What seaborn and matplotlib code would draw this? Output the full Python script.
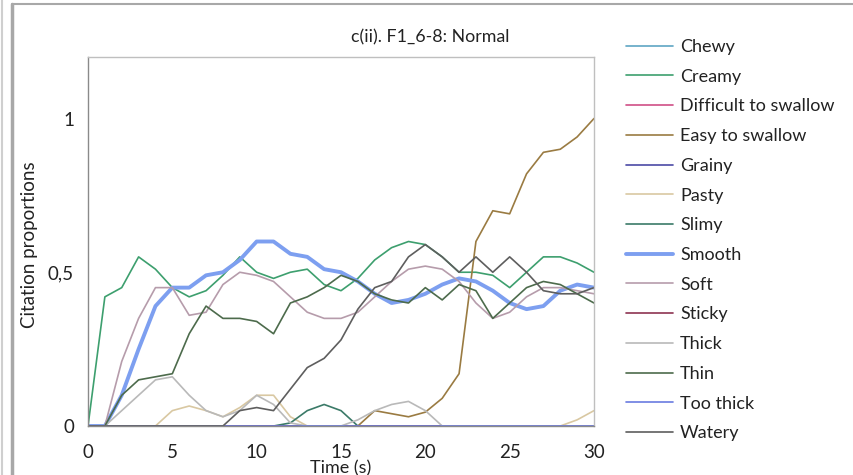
import numpy as np
import pandas as pd
import matplotlib
matplotlib.use("Agg")
import matplotlib.pyplot as plt
import seaborn as sns
from matplotlib.lines import Line2D

sns.set_style("white")
plt.rcParams['font.family'] = ['Lato', 'DejaVu Sans']

time_s = list(range(0, 31))

chewy = [0] * 31
creamy = [0, 0.42, 0.45, 0.55, 0.51, 0.45, 0.42, 0.44, 0.49, 0.55, 0.50, 0.48, 0.50, 0.51, 0.46, 0.44,
          0.48, 0.54, 0.58, 0.60, 0.59, 0.55, 0.50, 0.50, 0.49, 0.45, 0.50, 0.55, 0.55, 0.53, 0.50]
difficult = [0] * 31
easy = [0, 0, 0, 0, 0, 0, 0, 0, 0, 0, 0, 0, 0, 0, 0, 0,
        0, 0.05, 0.04, 0.03, 0.045, 0.09, 0.17, 0.60, 0.70, 0.69, 0.82, 0.89, 0.90, 0.94, 1.0]
grainy = [0] * 31
pasty = [0, 0, 0, 0, 0, 0.05, 0.065, 0.05, 0.03, 0.06, 0.10, 0.10, 0.03, 0, 0, 0,
         0, 0, 0, 0, 0, 0, 0, 0, 0, 0, 0, 0, 0, 0.02, 0.05]
slimy = [0, 0, 0, 0, 0, 0, 0, 0, 0, 0, 0, 0, 0.01, 0.05, 0.07, 0.05,
         0, 0, 0, 0, 0, 0, 0, 0, 0, 0, 0, 0, 0, 0, 0]
smooth = [0, 0, 0.10, 0.25, 0.39, 0.45, 0.45, 0.49, 0.50, 0.54, 0.60, 0.60, 0.56, 0.55, 0.51, 0.50,
          0.47, 0.43, 0.40, 0.41, 0.43, 0.46, 0.48, 0.47, 0.44, 0.40, 0.38, 0.39, 0.44, 0.46, 0.45]
soft = [0, 0, 0.21, 0.35, 0.45, 0.45, 0.36, 0.37, 0.46, 0.50, 0.49, 0.47, 0.42, 0.37, 0.35, 0.35,
        0.37, 0.42, 0.47, 0.51, 0.52, 0.51, 0.47, 0.40, 0.35, 0.37, 0.42, 0.45, 0.45, 0.44, 0.43]
sticky = [0] * 31
thick = [0, 0, 0.05, 0.10, 0.15, 0.16, 0.10, 0.05, 0.03, 0.05, 0.10, 0.07, 0.01, 0, 0, 0,
         0.02, 0.05, 0.07, 0.08, 0.05, 0, 0, 0, 0, 0, 0, 0, 0, 0, 0]
thin = [0, 0, 0.10, 0.15, 0.16, 0.17, 0.30, 0.39, 0.35, 0.35, 0.34, 0.30, 0.40, 0.42, 0.45, 0.49,
        0.47, 0.43, 0.41, 0.40, 0.45, 0.41, 0.46, 0.44, 0.35, 0.40, 0.45, 0.47, 0.46, 0.43, 0.40]
too_thick = [0] * 31
watery = [0, 0, 0, 0, 0, 0, 0, 0, 0, 0.05, 0.06, 0.05, 0.12, 0.19, 0.22, 0.28,
          0.38, 0.45, 0.47, 0.55, 0.59, 0.55, 0.50, 0.55, 0.50, 0.55, 0.50, 0.44, 0.43, 0.43, 0.45]

names = ["Chewy", "Creamy", "Difficult to swallow", "Easy to swallow", "Grainy", "Pasty", "Slimy",
         "Smooth", "Soft", "Sticky", "Thick", "Thin", "Too thick", "Watery"]
series = [chewy, creamy, difficult, easy, grainy, pasty, slimy, smooth, soft, sticky, thick, thin,
          too_thick, watery]
colors = ["#5fa6c4", "#3d9f6e", "#d04f86", "#9a7b42", "#4b4aa6", "#d9c8a2", "#3b7a68",
          "#7d9ff0", "#b69cab", "#8d3352", "#b9b9b9", "#4d6b4c", "#6a7be0", "#5e5e5e"]
widths = [1.2, 1.2, 1.2, 1.2, 1.2, 1.2, 1.2, 2.8, 1.2, 1.2, 1.2, 1.2, 1.2, 1.2]

df = pd.DataFrame({"Time": time_s * len(names),
                   "Series": [n for n in names for _ in time_s],
                   "Value": [v for s in series for v in s]})

fig = plt.figure(figsize=(8.54, 4.75), dpi=100)
ax = fig.add_axes([88 / 854, 1 - 426 / 475, (594 - 88) / 854, (426 - 57) / 475])

for name, col, lw in zip(names, colors, widths):
    sub = df[df["Series"] == name]
    sns.lineplot(data=sub, x="Time", y="Value", ax=ax, color=col, linewidth=lw, legend=False)

ax.set_xlim(0, 30)
ax.set_ylim(0, 1.2)
ax.set_xticks([0, 5, 10, 15, 20, 25, 30])
ax.set_xticklabels(["0", "5", "10", "15", "20", "25", "30"], fontsize=13.5)
ax.set_yticks([0, 0.5, 1])
ax.set_yticklabels(["0", "0,5", "1"], fontsize=13.5)
ax.tick_params(axis="both", direction="inout", length=8, width=0.9, color="#8a8a8a",
               labelcolor="#222222")
ax.tick_params(axis="x", pad=9)
ax.tick_params(axis="y", pad=6)
for sp in ax.spines.values():
    sp.set_color("#bfbfbf")
    sp.set_linewidth(1.0)
ax.spines["left"].set_color("#8a8a8a")
ax.spines["bottom"].set_color("#8a8a8a")
ax.set_xlabel("")
ax.set_ylabel("")

fig.text(430 / 854, 1 - 37 / 475, "c(ii). F1_6-8: Normal", ha="center", va="center", fontsize=12.8,
         color="#222222")
fig.text(341 / 854, 1 - 468 / 475, "Time (s)", ha="center", va="center", fontsize=13, color="#222222")
fig.text(30 / 854, 1 - 245 / 475, "Citation proportions", ha="center", va="center", rotation=90,
         fontsize=13.5, color="#222222")

handles = [Line2D([0], [0], color=c, linewidth=lw) for c, lw in zip(colors, widths)]
leg = fig.legend(handles, names, loc="upper left", bbox_to_anchor=(626 / 854, 1 - 39 / 475),
                 frameon=False, fontsize=13, handlelength=2.6, handletextpad=0.4,
                 labelspacing=0.76, borderaxespad=0, borderpad=0)
for t in leg.get_texts():
    t.set_color("#222222")

# outer frame lines
fig.add_artist(Line2D([12 / 854, 12 / 854], [0, 1 - 4 / 475], transform=fig.transFigure,
                      color="#a8a8a8", linewidth=2.5))
fig.add_artist(Line2D([2 / 854, 2 / 854], [0, 1], transform=fig.transFigure,
                      color="#cfcfcf", linewidth=1.5))
fig.add_artist(Line2D([12 / 854, 1], [1 - 4 / 475, 1 - 4 / 475], transform=fig.transFigure,
                      color="#a8a8a8", linewidth=1.5))

fig.savefig("out.png", dpi=100)
